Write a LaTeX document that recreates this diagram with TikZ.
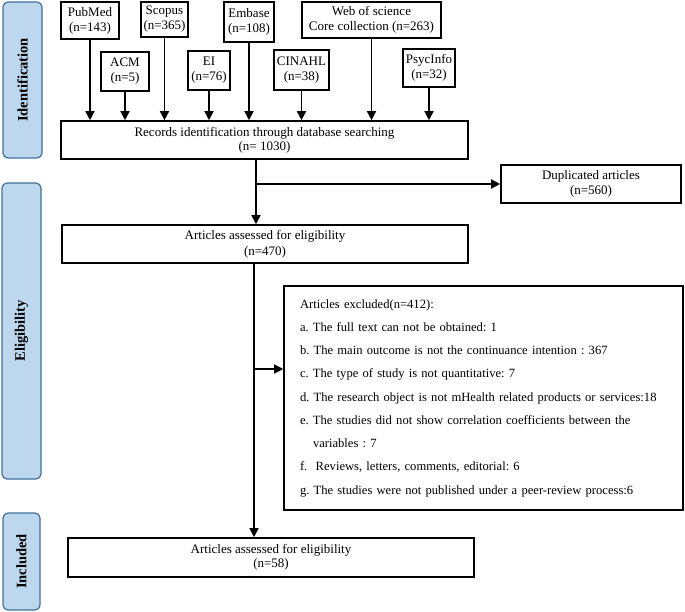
\documentclass[tikz,border=0pt]{standalone}
\usepackage{fontspec}
\setmainfont{Liberation Serif}
\usetikzlibrary{arrows.meta}
\definecolor{stagefill}{RGB}{189,215,238}
\definecolor{stageline}{RGB}{65,113,156}
\tikzset{
  box/.style={draw,line width=1.6pt,align=center,inner sep=1pt,font=\fontsize{13}{15}\selectfont},
  stage/.style={draw=stageline,fill=stagefill,line width=1.2pt,rounded corners=5pt,rotate=90,font=\fontsize{14.5}{16}\bfseries},
  arr/.style={line width=1.6pt,-{Triangle[length=9pt,width=9pt]}}
}
\frenchspacing
\begin{document}
\begin{tikzpicture}[x=1pt,y=-1pt]
      \useasboundingbox (0,0) rectangle (685,612);
      \node[stage,minimum width=156pt,minimum height=39pt](ident) at (22.5,80){Identification};
      \node[stage,minimum width=296pt,minimum height=39pt](elig) at (21.5,331){Eligibility};
      \node[stage,minimum width=97pt,minimum height=37pt](incl) at (21.5,561.5){Included};
      \node[box,minimum width=58pt,minimum height=37pt](pubmed) at (90,20.5){PubMed\\(n=143)};
      \node[box,minimum width=47pt,minimum height=35pt](scopus) at (164.5,19.5){Scopus\\(n=365)};
      \node[box,minimum width=50pt,minimum height=40pt](embase) at (249,22){Embase\\(n=108)};
      \node[box,minimum width=139pt,minimum height=36pt](wos) at (371.5,20){Web of science\\Core collection (n=263)};
      \node[box,minimum width=48pt,minimum height=39pt](acm) at (125,71.5){ACM\\(n=5)};
      \node[box,minimum width=42pt,minimum height=39pt](ei) at (209,70.5){EI\\(n=76)};
      \node[box,minimum width=55pt,minimum height=40pt](cinahl) at (301.5,70){CINAHL\\(n=38)};
      \node[box,minimum width=52pt,minimum height=38pt](psyc) at (429,68){PsycInfo\\(n=32)};
      \node[box,minimum width=407pt,minimum height=38pt,font=\fontsize{13}{14}\selectfont](records) at (264.5,140){Records identification through database searching\\(n= 1030)};
      \node[box,minimum width=180pt,minimum height=38pt](dup) at (591,184){Duplicated articles\\(n=560)};
      \node[box,minimum width=406pt,minimum height=38pt,font=\fontsize{13}{16}\selectfont](articles) at (265,244){Articles assessed for eligibility\\(n=470)};
      \node[box,minimum width=399pt,minimum height=224pt,text width=367pt,align=left,inner xsep=16pt,font=\fontsize{12.6}{23.25}\selectfont](excl) at (483.5,398){Articles excluded(n=412):\\
        a. The full text can not be obtained: 1\\
        b. The main outcome is not the continuance intention : 367\\
        c. The type of study is not quantitative: 7\\
        d. The research object is not mHealth related products or services:18\\
        e. The studies did not show correlation coefficients between the\\
        \hspace*{13pt}variables : 7\\
        f.\ \ Reviews, letters, comments, editorial: 6\\
        g. The studies were not published under a peer-review process:6};
      \node[box,minimum width=406pt,minimum height=39pt,font=\fontsize{13}{14}\selectfont](final) at (271,557.5){Articles assessed for eligibility\\(n=58)};
      \foreach \src in {pubmed,scopus,embase,wos,acm,ei,cinahl,psyc}
        \draw[arr] (\src.south) -- (\src.south |- records.north);
      \coordinate (split1) at (256,184);
      \coordinate (split2) at (254,369);
      \draw[arr] ([xshift=-8.5pt]records.south) -- ([xshift=-9pt]articles.north);
      \draw[arr] (split1) -- (dup.west);
      \draw[arr] ([xshift=-11pt]articles.south) -- ([xshift=-17pt]final.north);
      \draw[arr] (split2) -- (split2 -| excl.west);
      \end{tikzpicture}
\end{document}
